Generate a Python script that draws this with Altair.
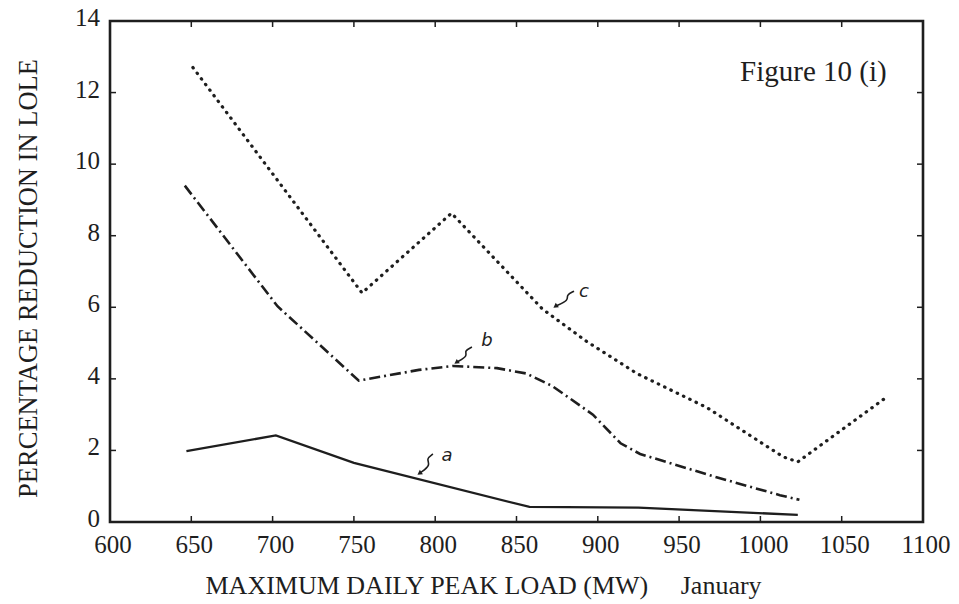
import altair as alt
import pandas as pd

# Peak load (MW) and percentage reduction in LOLE for the three cases
a_load = [647, 702, 750, 858, 925, 1023]
a_red = [1.98, 2.42, 1.65, 0.42, 0.40, 0.20]

b_load = [646, 703, 753, 790, 811, 838, 856, 872, 897, 914, 926, 973, 1012, 1024]
b_red = [9.40, 6.03, 3.95, 4.25, 4.36, 4.30, 4.15, 3.80, 3.00, 2.20, 1.90, 1.25, 0.75, 0.62]

c_load = [651, 755, 810, 866, 893, 924, 967, 1014, 1023, 1077]
c_red = [12.70, 6.40, 8.63, 5.95, 5.05, 4.15, 3.20, 1.82, 1.68, 3.47]

x_ticks = [600, 650, 700, 750, 800, 850, 900, 950, 1000, 1050, 1100]
y_ticks = [0, 2, 4, 6, 8, 10, 12, 14]

# hand-written curve labels with their little squiggle pointers
labels = ["a", "b", "c"]
label_x = [807.3, 831.9, 891.5]
label_y = [1.84, 5.06, 6.43]
squiggle_x = {
    "a": [798.6, 794.3, 797.4, 790.7],
    "b": [822.6, 817.7, 820.2, 813.4],
    "c": [885.4, 880.4, 882.3, 874.3],
}
squiggle_y = {
    "a": [1.90, 1.76, 1.59, 1.37],
    "b": [4.89, 4.78, 4.64, 4.47],
    "c": [6.45, 6.34, 6.20, 6.04],
}

INK = "#1e1e1e"
FONT = "Liberation Serif"
W, H = 813, 501

xs = alt.Scale(domain=[600, 1100], nice=False)
ys = alt.Scale(domain=[0, 14], nice=False)

x_axis = alt.Axis(
    values=x_ticks, domain=False, ticks=False, grid=False, labels=False,
    title="MAXIMUM DAILY PEAK LOAD (MW)" + "\u00a0" * 5 + "January",
    titleFont=FONT, titleFontSize=26, titleFontWeight="normal", titleColor=INK,
    titleAnchor="start", titleAlign="left", titleX=95, titleY=63,
    titleBaseline="middle",
)
y_axis = alt.Axis(
    values=y_ticks, domain=False, ticks=False, grid=False, labels=False,
    title="PERCENTAGE REDUCTION IN LOLE",
    titleFont=FONT, titleFontSize=26.5, titleFontWeight="normal", titleColor=INK,
    titleX=-82, titleY=257, titleBaseline="middle", titleAlign="center",
    titleAngle=270,
)

X = alt.X("x:Q", scale=xs, axis=x_axis)
Y = alt.Y("y:Q", scale=ys, axis=y_axis)


def series(load, red):
    return pd.DataFrame({"x": load, "y": red})


line_a = alt.Chart(series(a_load, a_red)).mark_line(
    color=INK, strokeWidth=2.3
).encode(x=X, y=Y)

line_b = alt.Chart(series(b_load, b_red)).mark_line(
    color=INK, strokeWidth=2.6, strokeDash=[11, 4, 2, 4]
).encode(x=X, y=Y)

line_c = alt.Chart(series(c_load, c_red)).mark_line(
    color=INK, strokeWidth=3.2, strokeDash=[0.5, 6.5], strokeCap="round"
).encode(x=X, y=Y)

# inward tick marks on all four sides
xt = pd.DataFrame({"x": x_ticks[1:-1]})
yt = pd.DataFrame({"y": y_ticks[1:-1]})
tick_len = 6
ticks_bottom = alt.Chart(xt).mark_rule(color=INK, strokeWidth=1.5).encode(
    x=X, y=alt.value(H), y2=alt.value(H - tick_len))
ticks_top = alt.Chart(xt).mark_rule(color=INK, strokeWidth=1.5).encode(
    x=X, y=alt.value(0), y2=alt.value(tick_len))
ticks_left = alt.Chart(yt).mark_rule(color=INK, strokeWidth=1.5).encode(
    y=Y, x=alt.value(0), x2=alt.value(tick_len))
ticks_right = alt.Chart(yt).mark_rule(color=INK, strokeWidth=1.5).encode(
    y=Y, x=alt.value(W), x2=alt.value(W - tick_len))

# tick labels in the serif face of the titles
xl = pd.DataFrame({"x": x_ticks, "t": [str(v) for v in x_ticks]})
yl = pd.DataFrame({"y": y_ticks, "t": [str(v) for v in y_ticks]})
x_labels = alt.Chart(xl).mark_text(
    font=FONT, fontSize=25, color=INK, align="center", baseline="middle", dx=3
).encode(x=X, y=alt.value(H + 23), text="t:N")
y_labels = alt.Chart(yl).mark_text(
    font=FONT, fontSize=25, color=INK, align="right", baseline="middle", dy=-3
).encode(y=Y, x=alt.value(-10), text="t:N")

# curve labels
lab_df = pd.DataFrame({"t": labels, "x": label_x, "y": label_y})
lab_text = alt.Chart(lab_df).mark_text(
    font="DejaVu Sans", fontSize=18, color=INK, align="center",
    baseline="middle", fontStyle="italic"
).encode(x=X, y=Y, text="t:N")

rows = []
for k in labels:
    for i, (sx, sy) in enumerate(zip(squiggle_x[k], squiggle_y[k])):
        rows.append({"k": k, "i": i, "x": sx, "y": sy})
sq_df = pd.DataFrame(rows)
squiggles = alt.Chart(sq_df).mark_line(
    color=INK, strokeWidth=1.6, interpolate="basis"
).encode(x=X, y=Y, detail="k:N", order="i:Q")
heads = alt.Chart(sq_df[sq_df["i"] == 3]).mark_point(
    shape="triangle", filled=True, color=INK, size=30, angle=235, opacity=1
).encode(x=X, y=Y)

fig_label = alt.Chart(
    pd.DataFrame({"t": ["Figure 10 (i)"], "x": [987.5], "y": [12.57]})
).mark_text(
    font=FONT, fontSize=29, color=INK, align="left", baseline="middle"
).encode(x=X, y=Y, text="t:N")

chart = alt.layer(
    line_c, line_b, line_a,
    ticks_bottom, ticks_top, ticks_left, ticks_right,
    x_labels, y_labels,
    squiggles, heads, lab_text, fig_label,
).properties(
    width=W, height=H,
    autosize=alt.AutoSizeParams(type="none"),
    padding={"left": 110, "top": 21, "right": 36, "bottom": 82},
    background="white",
).configure_view(
    stroke=INK, strokeWidth=2.6
)

chart.save("out.html", embed_options={"renderer": "svg", "actions": False})
